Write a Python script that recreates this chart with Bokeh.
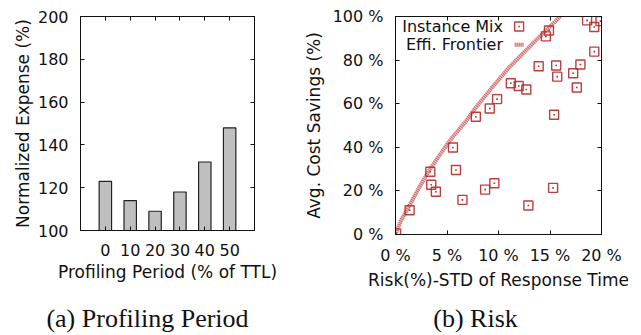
from bokeh.plotting import figure
from bokeh.layouts import row, column
from bokeh.models import Range1d, FixedTicker, LinearAxis, Label
from bokeh.embed import file_html
from bokeh.resources import INLINE

# ---------------- data ----------------
periods = [0, 10, 20, 30, 40, 50]
expense = [123, 114, 109, 118, 132, 148]
expense_ticks = [100, 120, 140, 160, 180, 200]

risk = [0.06, 1.37, 3.38, 3.47, 3.92, 5.58, 5.87, 6.5, 7.8, 8.7,
        9.15, 9.6, 9.86, 11.2, 11.96, 12.7, 12.9, 13.9, 14.6, 14.9,
        15.3, 15.4, 15.6, 15.7, 17.25, 17.6, 17.95, 18.6, 19.3, 19.3, 19.9]
savings = [0.5, 11.1, 28.8, 22.8, 19.6, 39.9, 29.6, 15.9, 54.0, 20.6,
           57.8, 23.5, 62.1, 69.4, 68.1, 66.5, 13.3, 77.2, 90.9, 93.6,
           21.4, 54.9, 77.5, 72.4, 74.0, 67.4, 78.0, 98.2, 95.2, 83.9, 97.9]
frontier_risk = [0, 0.15, 0.6, 1.27, 2.3, 3.35, 4.3, 5.26, 6.85, 7.66, 9.3, 11.0, 13.5, 16.0]
frontier_savings = [0, 2.0, 7.0, 12.6, 21.5, 30.0, 36.5, 43.0, 52.0, 57.4, 67.0, 76.5, 88.5, 100.0]

risk_ticks = [0, 5, 10, 15, 20]
risk_tick_labels = ["0 %", "5 %", "10 %", "15 %", "20 %"]
savings_ticks = [0, 20, 40, 60, 80, 100]
savings_tick_labels = ["0 %", "20 %", "40 %", "60 %", "80 %", "100 %"]

captions = ["(a) Profiling Period", "(b) Risk"]

FONT = "DejaVu Sans"
SERIF = "Liberation Serif"
MARK = "#b52a2a"
INK = "#111111"


def style_axis(ax, ticks, overrides=None, labels=True, standoff=11):
    ax.ticker = FixedTicker(ticks=ticks)
    ax.major_tick_in = 4
    ax.major_tick_out = 0
    ax.minor_tick_line_color = None
    ax.axis_line_color = INK
    ax.major_tick_line_color = INK
    ax.major_label_text_font = FONT
    ax.axis_label_text_font = FONT
    ax.axis_label_text_font_style = "normal"
    ax.axis_label_text_font_size = "17px"
    ax.axis_label_text_color = INK
    if overrides:
        ax.major_label_overrides = overrides
    if labels:
        ax.major_label_text_color = INK
        ax.major_label_text_font_size = "16px"
        ax.major_label_standoff = standoff
    else:
        ax.major_label_text_color = None
        ax.major_label_text_font_size = "1px"
        ax.major_label_standoff = 0


def mirror_axes(p, xticks, yticks):
    top = LinearAxis()
    style_axis(top, xticks, labels=False)
    p.add_layout(top, "above")
    right = LinearAxis()
    style_axis(right, yticks, labels=False)
    p.add_layout(right, "right")


def base_figure(width, height, xr, yr, left, right, top, bottom):
    p = figure(width=width, height=height, x_range=xr, y_range=yr,
               output_backend="svg", toolbar_location=None,
               min_border_left=left, min_border_right=right,
               min_border_top=top, min_border_bottom=bottom)
    p.grid.visible = False
    p.outline_line_color = INK
    p.background_fill_color = "white"
    p.border_fill_color = "white"
    return p


BOTTOM = 65          # shared bottom border (frames get aligned in a row)
H1, H2 = 295, 299    # right chart's frame reaches a little lower

# ---------------- (a) Profiling Period ----------------
p1 = base_figure(300, H1, Range1d(-10, 60), Range1d(100, 200), 80, 46, 16, BOTTOM)

p1.vbar(x=periods, top=expense, bottom=expense_ticks[0], width=5,
        fill_color="#bfbfbf", line_color="#222222", line_width=1.2)

style_axis(p1.xaxis[0], periods, standoff=13)
style_axis(p1.yaxis[0], expense_ticks, standoff=12)
p1.xaxis[0].axis_label = "Profiling Period (% of TTL)"
p1.yaxis[0].axis_label = "Normalized Expense (%)"
p1.xaxis[0].axis_label_standoff = 3
p1.yaxis[0].axis_label_standoff = 2
mirror_axes(p1, periods, expense_ticks)

# ---------------- (b) Risk ----------------
p2 = base_figure(341, H2, Range1d(0, 20), Range1d(0, 100), 92, 40, 16, BOTTOM)

# efficient frontier (hatched thick line)
p2.line(frontier_risk, frontier_savings, line_color="#efc4c4", line_width=4)
p2.line(frontier_risk, frontier_savings, line_color="#c04848", line_width=4,
        line_dash="1 1", line_alpha=0.7)

# instance mixes
p2.scatter(risk, savings, marker="square", size=9, fill_color=None,
           line_color=MARK, line_width=1.4, line_alpha=0.9)
p2.scatter(risk, savings, marker="square", size=1.6, fill_color=MARK,
           line_color=None)

style_axis(p2.xaxis[0], risk_ticks, dict(zip(risk_ticks, risk_tick_labels)), standoff=11)
style_axis(p2.yaxis[0], savings_ticks, dict(zip(savings_ticks, savings_tick_labels)), standoff=12)
p2.xaxis[0].axis_label = "Risk(%)-STD of Response Time"
p2.yaxis[0].axis_label = "Avg. Cost Savings (%)"
p2.xaxis[0].axis_label_standoff = 2
p2.yaxis[0].axis_label_standoff = 6
mirror_axes(p2, risk_ticks, savings_ticks)

# key (gnuplot style: text right-aligned, sample to the right)
key_text_x = 10.44
key_sample_x = 12.0
key_rows = [95.4, 87.0]
for label, yk in zip(["Instance Mix", "Effi. Frontier"], key_rows):
    p2.add_layout(Label(x=key_text_x, y=yk, text=label, text_align="right",
                        text_baseline="middle", text_font=FONT, text_font_size="16px",
                        text_color=INK))
p2.scatter([key_sample_x], [key_rows[0]], marker="square", size=9, fill_color=None,
           line_color=MARK, line_width=1.4, line_alpha=0.9)
p2.scatter([key_sample_x], [key_rows[0]], marker="square", size=1.6, fill_color=MARK,
           line_color=None)
p2.line([key_sample_x - 0.43, key_sample_x + 0.43], [key_rows[1], key_rows[1]],
        line_color="#efc4c4", line_width=4)
p2.line([key_sample_x - 0.43, key_sample_x + 0.43], [key_rows[1], key_rows[1]],
        line_color="#c04848", line_width=4, line_dash="1 1", line_alpha=0.7)

# ---------------- captions ----------------
CAP_H = 335 - max(H1, H2)
cap = figure(width=641, height=CAP_H, x_range=Range1d(0, 641), y_range=Range1d(0, CAP_H),
             output_backend="svg", toolbar_location=None, min_border=0)
cap.axis.visible = False
cap.grid.visible = False
cap.outline_line_color = None
cap_x = [147, 475]
for txt, cx in zip(captions, cap_x):
    cap.add_layout(Label(x=cx, y=17, text=txt, text_align="center", text_baseline="middle",
                         text_font=SERIF, text_font_size="26px", text_color=INK))

layout = column(row(p1, p2), cap)
open("out.html", "w").write(file_html(layout, INLINE))
